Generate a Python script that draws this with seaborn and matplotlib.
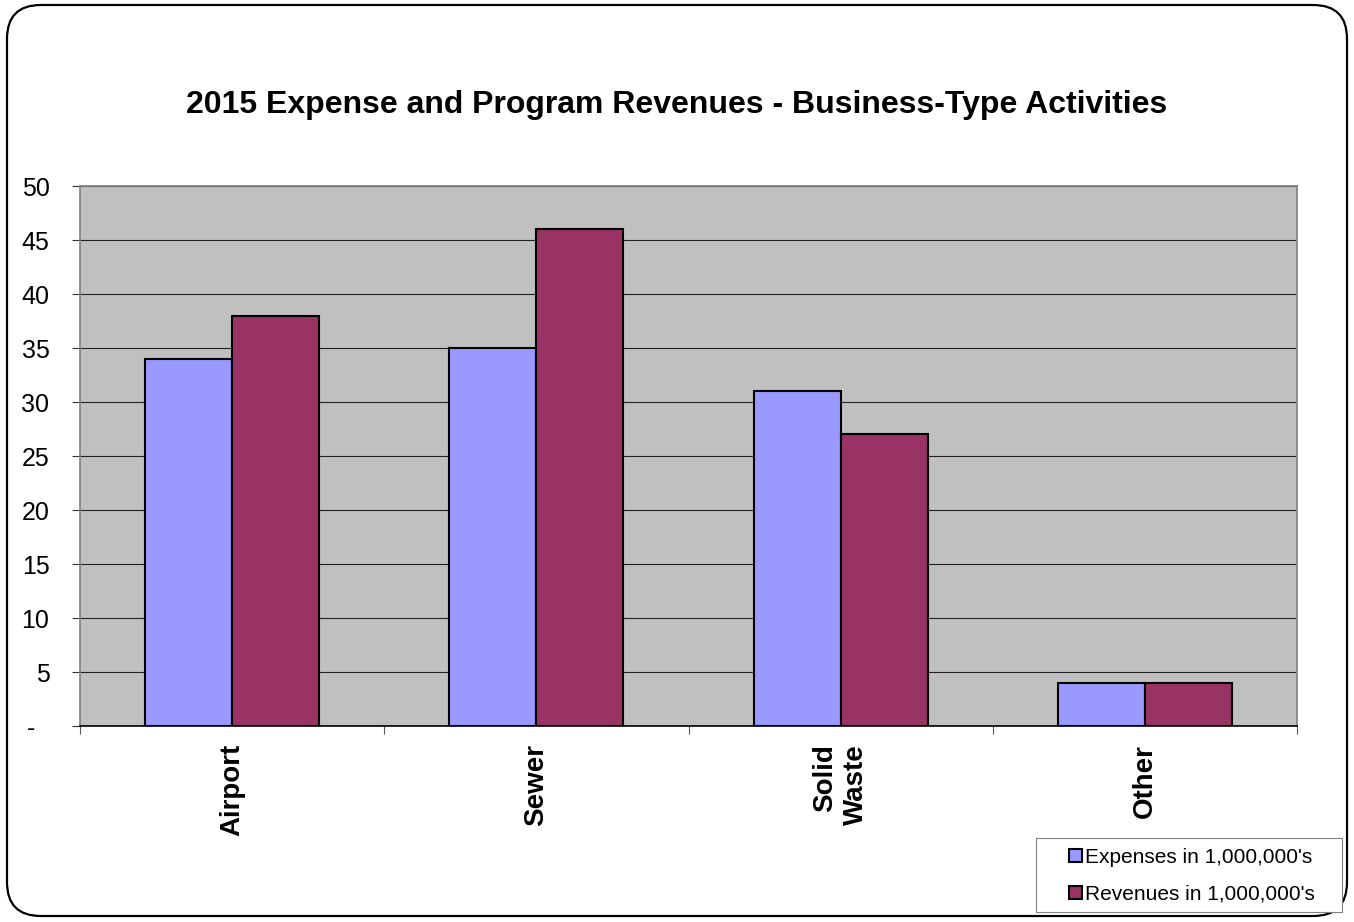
import matplotlib
matplotlib.use("Agg")
import matplotlib.pyplot as plt
from matplotlib.patches import FancyBboxPatch, Rectangle
from matplotlib.ticker import FixedLocator
import pandas as pd
import seaborn as sns

categories = ["Airport", "Sewer", "Solid\nWaste", "Other"]
expenses = [34, 35, 31, 4]
revenues = [38, 46, 27, 4]
series_names = ["Expenses in 1,000,000's", "Revenues in 1,000,000's"]
y_ticks = [0, 5, 10, 15, 20, 25, 30, 35, 40, 45, 50]
y_tick_labels = ["-  ", "5", "10", "15", "20", "25", "30", "35", "40", "45", "50"]
title = "2015 Expense and Program Revenues - Business-Type Activities"

sns.set_theme(style="white")
plt.rcParams["font.family"] = ["Liberation Sans", "DejaVu Sans"]
plt.rcParams["text.color"] = "black"
plt.rcParams["xtick.color"] = "black"
plt.rcParams["ytick.color"] = "black"

df = pd.DataFrame({
    "category": categories * 2,
    "series": [series_names[0]] * len(categories) + [series_names[1]] * len(categories),
    "value": expenses + revenues,
})

W, H = 1354, 922
fig = plt.figure(figsize=(W / 100, H / 100), dpi=100)
fig.patch.set_facecolor("white")

# rounded outer frame
frame = FancyBboxPatch((7 / W, 6 / H), (1347 - 7) / W, (917 - 6) / H,
                       boxstyle="round,pad=0,rounding_size=0.025",
                       transform=fig.transFigure, facecolor="none",
                       edgecolor="black", linewidth=1.6, zorder=0,
                       mutation_aspect=W / H)
fig.add_artist(frame)

ax = fig.add_axes([80 / W, (H - 726) / H, (1297 - 80) / W, (726 - 186) / H])
ax.set_facecolor("#C0C0C0")

sns.barplot(data=df, x="category", y="value", hue="series",
            palette=["#9999FF", "#993366"], width=0.572,
            edgecolor="black", linewidth=1.5, saturation=1,
            ax=ax, legend=True, zorder=3)

ax.set_ylim(0, 50)
ax.set_xlim(-0.5, len(categories) - 0.5)
ax.set_yticks(y_ticks)
ax.set_yticklabels(y_tick_labels, fontsize=18, color="black")
ax.yaxis.grid(True, color="#222222", linewidth=0.8, zorder=1)
ax.set_axisbelow(True)

ax.set_xticks(range(len(categories)))
ax.set_xticklabels(categories, rotation=90, fontsize=20, fontweight="bold",
                   va="top", ha="center", multialignment="right", color="black")
ax.xaxis.set_minor_locator(FixedLocator([i - 0.5 for i in range(len(categories) + 1)]))
ax.tick_params(axis="x", which="major", length=0, pad=13)
ax.tick_params(axis="x", which="minor", length=6, width=0.8, color="#555555", bottom=True)
ax.tick_params(axis="y", length=6, width=0.8, color="#333333", pad=16, left=True)
ax.set_xlabel("")
ax.set_ylabel("")

for side in ["top", "right", "left"]:
    ax.spines[side].set_color("#808080")
    ax.spines[side].set_linewidth(1.2)
ax.spines["bottom"].set_color("black")
ax.spines["bottom"].set_linewidth(1.2)

# legend in a plain box at the lower right
handles, labels = ax.get_legend_handles_labels()
ax.legend_.remove()
fig.add_artist(Rectangle((1036 / W, (H - 912) / H), (1342 - 1036) / W, (912 - 838) / H,
                         transform=fig.transFigure, facecolor="white",
                         edgecolor="#808080", linewidth=0.8, zorder=1))
leg = fig.legend(handles, labels, loc="center",
                 bbox_to_anchor=(1192 / W, 1 - 876 / H),
                 fontsize=15, frameon=False,
                 handlelength=0.6, handleheight=0.6, handletextpad=0.15,
                 borderpad=0, labelspacing=0.85)
leg.set_zorder(2)

fig.text(677 / W, 1 - 105 / H, title, ha="center", va="center",
         fontsize=23, fontweight="bold", color="black")

fig.savefig("out.png", dpi=100)
